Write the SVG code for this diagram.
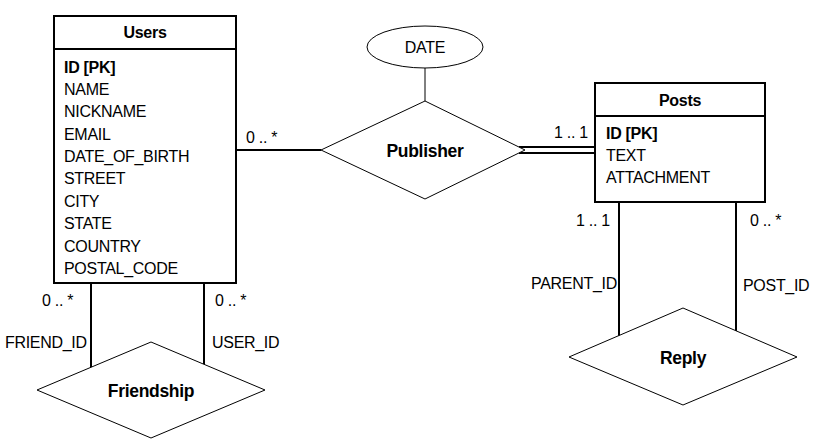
<svg xmlns="http://www.w3.org/2000/svg" width="839" height="447" viewBox="0 0 839 447">
<style>
text{font-family:"Liberation Sans",Arial,sans-serif;font-size:16px;letter-spacing:-0.3px;fill:#000}
.b{font-weight:bold}
.t{font-weight:bold;font-size:17.5px}
.m{text-anchor:middle}
.ent{fill:#fff;stroke:#000;stroke-width:2}
.rel{fill:#fff;stroke:#000;stroke-width:1}
.con{fill:none;stroke:#000;stroke-width:2}
.thin{fill:none;stroke:#000;stroke-width:1}
</style>
<rect width="839" height="447" fill="#fff"/>
<g id="connectors">
<line class="con" x1="236" y1="150" x2="321" y2="150"/>
<line class="con" x1="519" y1="147" x2="595" y2="147"/>
<line class="con" x1="519" y1="153" x2="595" y2="153"/>
<line class="thin" x1="425" y1="68" x2="425" y2="101"/>
<line class="con" x1="619" y1="202" x2="619" y2="336"/>
<line class="con" x1="736" y1="202" x2="736" y2="331"/>
<line class="con" x1="91" y1="283" x2="91" y2="368"/>
<line class="con" x1="204" y1="283" x2="204" y2="364"/>
<text x="246" y="143">0 .. *</text>
<text x="554" y="138">1 .. 1</text>
<text x="576" y="226">1 .. 1</text>
<text x="750" y="226">0 .. *</text>
<text x="531" y="289">PARENT_ID</text>
<text x="743" y="291">POST_ID</text>
<text x="42" y="306">0 .. *</text>
<text x="215" y="306">0 .. *</text>
<text x="5" y="348">FRIEND_ID</text>
<text x="212" y="348">USER_ID</text>
</g>
<g id="users">
<rect class="ent" x="54" y="16" width="182" height="267"/>
<line class="ent" x1="54" y1="49" x2="236" y2="49"/>
<text class="b m" x="145" y="38">Users</text>
<text class="b" x="64" y="73">ID [PK]</text>
<text x="64" y="95">NAME</text>
<text x="64" y="117">NICKNAME</text>
<text x="64" y="140">EMAIL</text>
<text x="64" y="162">DATE_OF_BIRTH</text>
<text x="64" y="184">STREET</text>
<text x="64" y="207">CITY</text>
<text x="64" y="229">STATE</text>
<text x="64" y="252">COUNTRY</text>
<text x="64" y="274">POSTAL_CODE</text>
</g>
<g id="posts">
<rect class="ent" x="595" y="83" width="170" height="119"/>
<line class="ent" x1="595" y1="116" x2="765" y2="116"/>
<text class="b m" x="680" y="106">Posts</text>
<text class="b" x="606" y="139">ID [PK]</text>
<text x="606" y="161">TEXT</text>
<text x="606" y="183">ATTACHMENT</text>
</g>
<g id="date">
<ellipse class="rel" cx="425" cy="47" rx="58" ry="21"/>
<text class="m" x="425" y="53">DATE</text>
</g>
<g id="publisher">
<polygon class="rel" points="321,150 425,101 525,150 425,199"/>
<text class="t m" x="425" y="157">Publisher</text>
</g>
<g id="reply">
<polygon class="rel" points="569,357 683,308 797,357 683,405"/>
<text class="t m" x="683" y="364">Reply</text>
</g>
<g id="friendship">
<polygon class="rel" points="37,390 151,342 265,390 151,438"/>
<text class="t m" x="151" y="397">Friendship</text>
</g>
</svg>
